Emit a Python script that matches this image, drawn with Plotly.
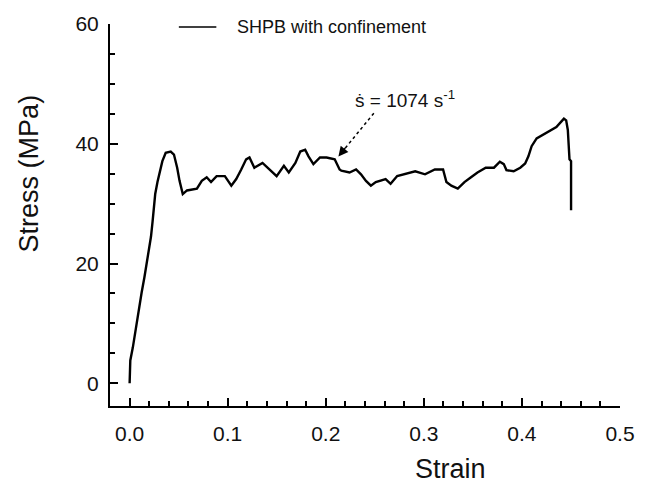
import plotly.graph_objects as go

strain = [0.0, 0.0007, 0.0033, 0.0067, 0.0093, 0.0123, 0.0151, 0.0174, 0.0201, 0.0218,
          0.0234, 0.0261, 0.0284, 0.0308, 0.0334, 0.0368, 0.0419, 0.0452, 0.0485, 0.0509,
          0.0542, 0.0585, 0.0686, 0.0736, 0.0786, 0.0830, 0.0887, 0.0954, 0.0971, 0.1037,
          0.1087, 0.1138, 0.1188, 0.1222, 0.1272, 0.1355, 0.1423, 0.1499, 0.1573, 0.1623,
          0.1690, 0.1740, 0.1790, 0.1824, 0.1874, 0.1941, 0.2008, 0.2091, 0.2141, 0.2159,
          0.2242, 0.2309, 0.2359, 0.2410, 0.2460, 0.2510, 0.2610, 0.2661, 0.2728, 0.2811,
          0.2912, 0.3012, 0.3112, 0.3196, 0.3230, 0.3280, 0.3346, 0.3396, 0.3414, 0.3481,
          0.3547, 0.3631, 0.3715, 0.3775, 0.3815, 0.3842, 0.3916, 0.3983, 0.4033, 0.4066,
          0.4099, 0.4150, 0.4217, 0.4284, 0.4351, 0.4401, 0.4428, 0.4451, 0.4468, 0.4485,
          0.4501, 0.4501]
stress = [0.0, 3.8, 6.0, 9.8, 12.5, 15.2, 17.7, 20.2, 22.3, 24.5,
          27.0, 31.6, 33.6, 35.5, 37.1, 38.5, 38.7, 38.2, 36.0, 33.8,
          31.6, 32.2, 32.5, 33.8, 34.4, 33.6, 34.6, 34.6, 34.6, 33.0,
          34.1, 35.7, 37.4, 37.7, 36.0, 36.8, 35.7, 34.6, 36.3, 35.2,
          36.8, 38.7, 39.0, 37.9, 36.6, 37.7, 37.7, 37.4, 35.7, 35.5,
          35.2, 35.7, 34.9, 33.8, 33.0, 33.6, 34.1, 33.3, 34.6, 35.0,
          35.4, 34.9, 35.7, 35.7, 33.6, 33.0, 32.5, 33.3, 33.6, 34.4,
          35.2, 36.0, 36.0, 37.0, 36.6, 35.6, 35.4, 36.0, 36.7, 37.9,
          39.6, 40.9, 41.5, 42.1, 42.8, 43.7, 44.2, 43.9, 42.3, 37.4,
          37.1, 28.9]

x_ticks = [0.0, 0.1, 0.2, 0.3, 0.4, 0.5]
x_ticklabels = ["0.0", "0.1", "0.2", "0.3", "0.4", "0.5"]
y_ticks = [0, 20, 40, 60]
y_ticklabels = ["0", "20", "40", "60"]

series_name = "SHPB with confinement"
rate_label = "ṡ = 1074 s<sup>-1</sup>"

FONT = "Liberation Sans, Arial, sans-serif"

fig = go.Figure()
fig.add_trace(go.Scatter(x=strain, y=stress, mode="lines", name=series_name,
                         line=dict(color="black", width=2.4), showlegend=False))

axis_common = dict(showline=True, linecolor="black", linewidth=2, ticks="inside",
                   tickcolor="black", tickwidth=2, ticklen=8, showgrid=False,
                   zeroline=False, mirror=False, tickmode="array",
                   tickfont=dict(family=FONT, size=21, color="#111"))

fig.update_xaxes(range=[-0.02, 0.5], tickvals=x_ticks, ticktext=x_ticklabels,
                 minor=dict(tickmode="linear", tick0=0, dtick=0.02, ticks="inside",
                            ticklen=5, tickwidth=1.5, tickcolor="black", showgrid=False),
                 ticklabelstandoff=8, **axis_common)
fig.update_yaxes(range=[-3.8, 60], tickvals=y_ticks, ticktext=y_ticklabels,
                 minor=dict(tickmode="linear", tick0=0, dtick=5, ticks="inside",
                            ticklen=5, tickwidth=1.5, tickcolor="black", showgrid=False),
                 ticklabelstandoff=5, **axis_common)

# axis titles
fig.add_annotation(text="Strain", xref="paper", yref="paper", x=0.668, y=-0.165,
                   xanchor="center", yanchor="middle", showarrow=False,
                   font=dict(family=FONT, size=27, color="#111"))
fig.add_annotation(text="Stress (MPa)", xref="paper", yref="paper", x=-0.158, y=0.61,
                   xanchor="center", yanchor="middle", showarrow=False, textangle=-90,
                   font=dict(family=FONT, size=27, color="#111"))

# legend (drawn manually)
fig.add_shape(type="line", xref="paper", yref="paper", x0=0.135, x1=0.2085,
              y0=0.992, y1=0.992, line=dict(color="black", width=1.5))
fig.add_annotation(text=series_name, xref="paper", yref="paper", x=0.245, y=0.992,
                   xanchor="left", yanchor="middle", showarrow=False,
                   font=dict(family=FONT, size=18, color="#111"))

# strain-rate label and dotted arrow
fig.add_annotation(text=rate_label, x=0.281, y=47.5, xanchor="center", yanchor="middle",
                   showarrow=False, font=dict(family=FONT, size=19, color="#111"))
fig.add_shape(type="line", x0=0.249, y0=45.1, x1=0.2175, y1=38.8,
              line=dict(color="black", width=1.5, dash="dot"))
fig.add_annotation(text="", x=0.2129, y=37.87, ax=8, ay=-10, showarrow=True,
                   arrowhead=2, arrowsize=1.4, arrowwidth=1.4, arrowcolor="black")

fig.update_layout(width=647, height=497, margin=dict(l=110, r=19, t=17, b=91),
                  paper_bgcolor="white", plot_bgcolor="white")

fig.write_html("out.html")
